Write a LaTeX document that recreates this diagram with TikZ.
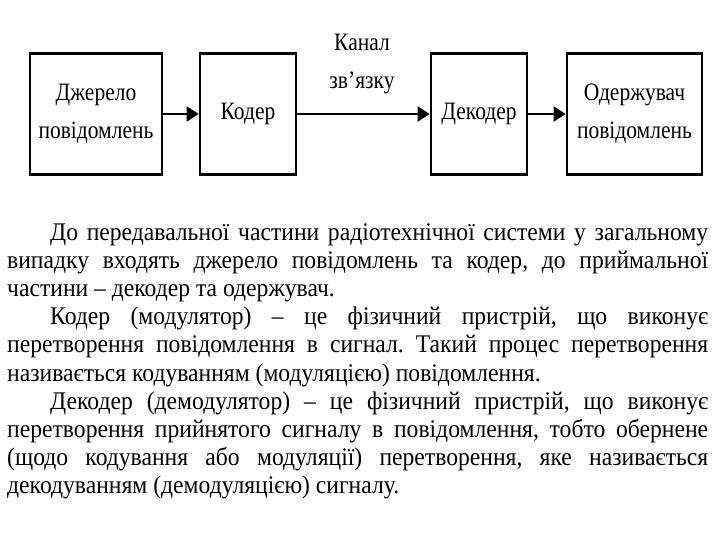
\documentclass[tikz,border=0pt]{standalone}
\usepackage{fontspec}
\setmainfont{Liberation Serif}
\newfontfamily\vuzkyj{Liberation Serif}[FakeStretch=0.86]
\newfontfamily\tekstshryft{Liberation Serif}[FakeStretch=0.93]
\frenchspacing
\usetikzlibrary{arrows.meta}
\begin{document}
\begin{tikzpicture}[x=1pt,y=-1pt,
	blok/.style={draw,line width=2.6pt,minimum height=121pt,inner sep=0pt,align=center,font=\vuzkyj\fontsize{25}{38}\selectfont},
	strilka/.style={line width=2pt,-{Triangle[length=12pt,width=15pt]}}]
		\useasboundingbox (0,0) rectangle (720,540);
		\node[blok,minimum width=132pt] (dzherelo) at (96,114) {Джерело\\повідомлень};
		\node[blok,minimum width=96pt] (koder) at (248,114) {Кодер};
		\node[blok,minimum width=96pt] (dekoder) at (479,114) {Декодер};
		\node[blok,minimum width=135pt] (oderzhuvach) at (634.5,114) {Одержувач\\повідомлень};
		\draw[strilka] (dzherelo) -- (koder);
		\draw[strilka] (koder) -- (dekoder);
		\draw[strilka] (dekoder) -- (oderzhuvach);
		\node[align=center,font=\vuzkyj\fontsize{25}{38}\selectfont] (kanal) at (362,64) {Канал\\зв’язку};
		\node[anchor=north west,inner sep=0pt,text width=701pt,align=justify,font=\tekstshryft\fontsize{25.4}{28.2}\selectfont] (tekst) at (7,223) {%
			\hspace*{43pt}До передавальної частини радіотехнічної системи у загальному\linebreak
			випадку входять джерело повідомлень та кодер, до приймальної\linebreak
			частини – декодер та одержувач.\par
			\hspace*{43pt}Кодер (модулятор) – це фізичний пристрій, що виконує\linebreak
			перетворення повідомлення в сигнал. Такий процес перетворення\linebreak
			називається кодуванням (модуляцією) повідомлення.\par
			\hspace*{43pt}Декодер (демодулятор) – це фізичний пристрій, що виконує\linebreak
			перетворення прийнятого сигналу в повідомлення, тобто обернене\linebreak
			(щодо кодування або модуляції) перетворення, яке називається\linebreak
			декодуванням (демодуляцією) сигналу.};
\end{tikzpicture}
\end{document}
